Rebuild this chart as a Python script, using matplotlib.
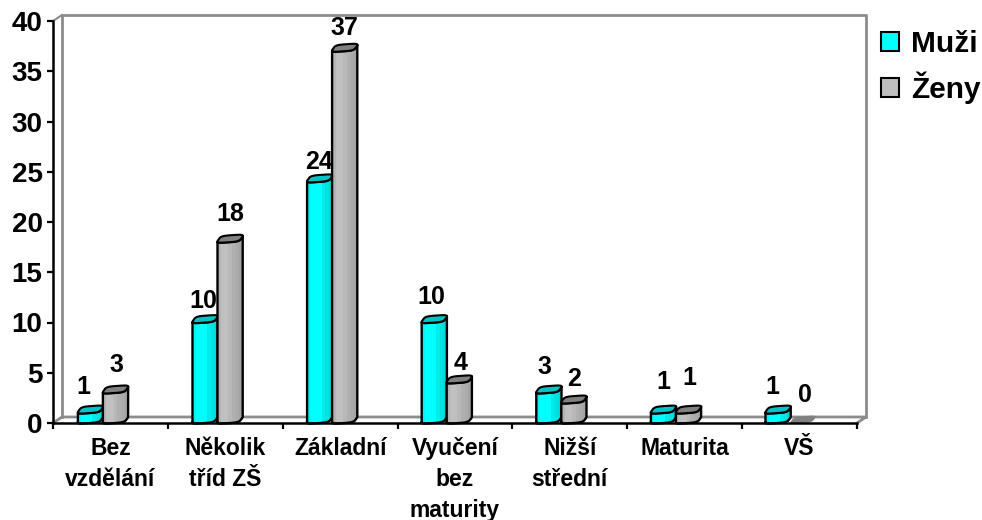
####
# filename: plot.py
# Description: 3D looking cylinder bar chart, education by gender
####

import numpy as np
import matplotlib
matplotlib.use('Agg')
import matplotlib.pyplot as plt
from matplotlib.patches import Patch

plt.rcParams['font.family'] = ['Liberation Sans', 'DejaVu Sans']
plt.rcParams['font.weight'] = 'bold'

categories = ['Bez\nvzdělání', 'Několik\ntříd ZŠ', 'Základní', 'Vyučení\nbez\nmaturity',
	'Nižší\nstřední', 'Maturita', 'VŠ']
muzi = [1, 10, 24, 10, 3, 1, 1]
zeny = [3, 18, 37, 4, 2, 1, 0]
y_ticks = [0, 5, 10, 15, 20, 25, 30, 35, 40]

# Label nudges in pixels, labels were hand placed in the original chart
muzi_dx = [-7, -2, -1, -3, -4, 0, -6]
muzi_dy = [26, 22, 20, 26, 26, 31, 26]
zeny_dx = [1, 0, 0, 1, 0, 1, 2]
zeny_dy = [28, 28, 23, 20, 24, 35, 28]

# Figure in pixels
W, H = 982, 520
left, right, bottom, top = 53, 857, 423, 21
fig = plt.figure(figsize=(W/100, H/100), dpi=100)
ax = fig.add_axes([left/W, 1 - bottom/H, (right - left)/W, (bottom - top)/H])
ax.set_xlim(0, len(categories))
ax.set_ylim(0, 40)

# Size of one pixel in data units
ux = len(categories)/(right - left)
uy = 40/(bottom - top)

# Back wall of the 3D box
wall_x = 9*ux
wall_y = 6*uy
n = len(categories)
ax.plot([wall_x, wall_x, n + wall_x, n + wall_x], [wall_y, 40 + wall_y, 40 + wall_y, wall_y],
	color='#8c8c8c', linewidth=2, clip_on=False, zorder=1)
ax.plot([0, wall_x, n + wall_x, n], [0, wall_y, wall_y, 0],
	color='#8c8c8c', linewidth=2, clip_on=False, zorder=1)
ax.plot([0, wall_x], [40, 40 + wall_y], color='#8c8c8c', linewidth=1.5, clip_on=False, zorder=1)


def cap(cx, value):
	"""rounded slanted top of a cylinder, in data units"""
	t = np.linspace(0, 2*np.pi, 121)
	c = np.sign(np.cos(t))*np.abs(np.cos(t))**0.5
	s = np.sign(np.sin(t))*np.abs(np.sin(t))**0.5
	px = 11.5*c + 2.5*s
	py = 0.8*c + 3.6*s + 3.4
	return cx + px*ux, value + py*uy


def cylinder(cx, value, colors, top_color, z):
	"""one bar, gradient stripes clipped to the outline, then the top"""
	xb, yb = cap(cx, 0)
	xt, yt = cap(cx, value)
	a = np.argmin(xb)
	b = np.argmax(xb)
	# lower half of the base going left to right, then back over the top
	low = np.concatenate([np.arange(a, len(xb) - 1), np.arange(0, b + 1)])
	body_x = np.concatenate([xb[low], xt[low][::-1]])
	body_y = np.concatenate([yb[low], yt[low][::-1]])
	outline = ax.fill(body_x, body_y, facecolor=colors[0], edgecolor='none', zorder=z, clip_on=False)[0]

	edges = np.linspace(xb.min(), xb.max(), len(colors) + 1)
	for i, col in enumerate(colors):
		st = ax.bar(edges[i], value + 8*uy, width=edges[i + 1] - edges[i] + ux*0.3, bottom=-2*uy,
			align='edge', color=col, linewidth=0, zorder=z)
		st[0].set_clip_path(outline)

	ax.plot(np.append(body_x, body_x[0]), np.append(body_y, body_y[0]), color='black', linewidth=1.7,
		zorder=z + 0.1, clip_on=False, solid_joinstyle='round')
	ax.fill(xt, yt, facecolor=top_color, edgecolor='black', linewidth=1.5, zorder=z + 0.2, clip_on=False)


cyan_cols = ['#00f2f2', '#00ffff', '#00ffff', '#00ffff', '#00eaea', '#00e2e2', '#00d8d8']
gray_cols = ['#b4b4b4', '#c0c0c0', '#c0c0c0', '#b8b8b8', '#b0b0b0', '#aaaaaa', '#a4a4a4']

for i in range(len(categories)):
	c1 = 37.5*ux + i*114.6*ux
	c2 = c1 + 25*ux
	cylinder(c1, muzi[i], cyan_cols, '#00c4c4', 3 + i*0.01)
	if zeny[i] > 0:
		cylinder(c2, zeny[i], gray_cols, '#808080', 4 + i*0.01)
	else:
		# nothing to extrude, only the flat base is visible
		xt, yt = cap(c2, 0)
		ax.fill(xt, yt, facecolor='#808080', edgecolor='none', zorder=2.5, clip_on=False)
	ax.annotate(str(muzi[i]), (c1, muzi[i]), xytext=(muzi_dx[i]*0.72, muzi_dy[i]*0.72),
		textcoords='offset points', ha='center', va='center', fontsize=18, fontweight='bold', zorder=6)
	ax.annotate(str(zeny[i]), (c2, zeny[i]), xytext=(zeny_dx[i]*0.72, zeny_dy[i]*0.72),
		textcoords='offset points', ha='center', va='center', fontsize=18, fontweight='bold', zorder=6)

# Front axes
for s in ['top', 'right']:
	ax.spines[s].set_visible(False)
for s in ['left', 'bottom']:
	ax.spines[s].set_linewidth(1.8)
	ax.spines[s].set_zorder(5)
ax.patch.set_alpha(0)

ax.set_yticks(y_ticks)
ax.set_xticks(range(len(categories) + 1))
ax.set_xticklabels([])
ax.tick_params(axis='both', width=1.6, length=4.5)
ax.tick_params(axis='y', labelsize=20, pad=3)
ax.set_xticks(np.arange(len(categories)) + 0.5, minor=True)
ax.set_xticklabels(categories, minor=True, fontsize=16.5, fontweight='bold', linespacing=1.44)
ax.tick_params(axis='x', which='minor', length=0, pad=10)

handles = [Patch(facecolor='#00ffff', edgecolor='black', linewidth=1.5, label='Muži'),
	Patch(facecolor='#c0c0c0', edgecolor='black', linewidth=1.5, label='Ženy')]
fig.legend(handles=handles, loc='upper left', bbox_to_anchor=(881/W, 1 - 30.5/H), frameon=False,
	fontsize=21.5, handlelength=0.6, handleheight=0.6, handletextpad=0.42, labelspacing=0.45,
	borderpad=0, borderaxespad=0)

plt.savefig('out.png', dpi=100)
